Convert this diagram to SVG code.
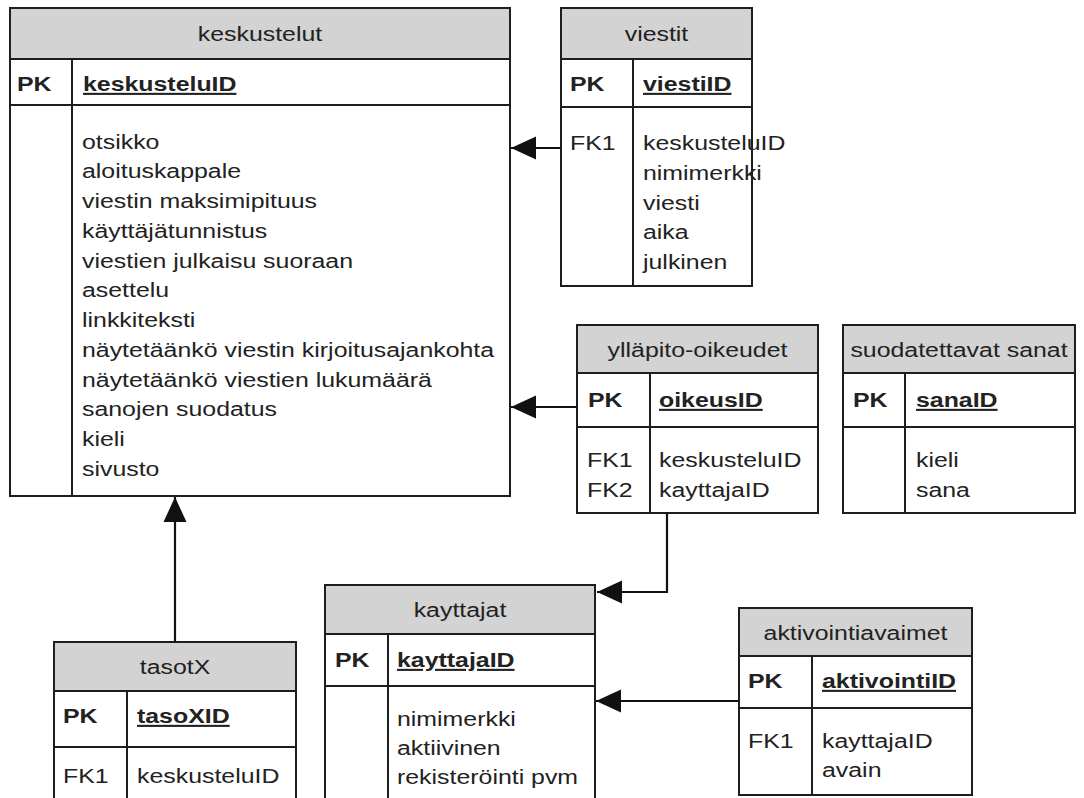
<svg xmlns="http://www.w3.org/2000/svg" width="1084" height="798" viewBox="0 0 1084 798">
  <style>
    .box { fill: #ffffff; stroke: #1e1e1e; stroke-width: 2; }
    .head { fill: #d3d3d3; stroke: #1e1e1e; stroke-width: 2; }
    .sep { stroke: #1e1e1e; stroke-width: 2; fill: none; }
    .t { font-family: "Liberation Sans", Arial, sans-serif; font-size: 21px; fill: #222222; }
    .c { text-anchor: middle; }
    .b { font-weight: bold; }
    .u { font-weight: bold; text-decoration: underline; }
    .link { stroke: #111111; stroke-width: 2.2; fill: none; marker-end: url(#arrow); }
  </style>
  <defs>
    <marker id="arrow" markerUnits="userSpaceOnUse" markerWidth="27" markerHeight="25" refX="25" refY="12" orient="auto">
      <path d="M0,0.5 L25,12 L0,23.5 Z" fill="#111111"/>
    </marker>
  </defs>
  <rect width="1084" height="798" fill="#ffffff"/>

  <!-- keskustelut -->
  <g id="keskustelut">
    <rect class="box" x="10" y="8" width="500" height="488"/>
    <rect class="head" x="10" y="8" width="500" height="51"/>
    <line class="sep" x1="10" y1="105" x2="510" y2="105"/>
    <line class="sep" x1="72" y1="59" x2="72" y2="496"/>
    <text class="t c" transform="translate(260 41) scale(1.185 1)">keskustelut</text>
    <text class="t b" transform="translate(17 91) scale(1.185 1)">PK</text>
    <text class="t u" transform="translate(83 91) scale(1.185 1)">keskusteluID</text>
    <text class="t" transform="translate(82 148.5) scale(1.185 1)">otsikko</text>
    <text class="t" transform="translate(82 178.25) scale(1.185 1)">aloituskappale</text>
    <text class="t" transform="translate(82 208) scale(1.185 1)">viestin maksimipituus</text>
    <text class="t" transform="translate(82 237.75) scale(1.185 1)">käyttäjätunnistus</text>
    <text class="t" transform="translate(82 267.5) scale(1.185 1)">viestien julkaisu suoraan</text>
    <text class="t" transform="translate(82 297.25) scale(1.185 1)">asettelu</text>
    <text class="t" transform="translate(82 327) scale(1.185 1)">linkkiteksti</text>
    <text class="t" transform="translate(82 356.75) scale(1.185 1)">näytetäänkö viestin kirjoitusajankohta</text>
    <text class="t" transform="translate(82 386.5) scale(1.185 1)">näytetäänkö viestien lukumäärä</text>
    <text class="t" transform="translate(82 416.25) scale(1.185 1)">sanojen suodatus</text>
    <text class="t" transform="translate(82 446) scale(1.185 1)">kieli</text>
    <text class="t" transform="translate(82 475.75) scale(1.185 1)">sivusto</text>
  </g>

  <!-- viestit -->
  <g id="viestit">
    <rect class="box" x="561" y="8" width="191" height="278"/>
    <rect class="head" x="561" y="8" width="191" height="51"/>
    <line class="sep" x1="561" y1="107" x2="752" y2="107"/>
    <line class="sep" x1="633" y1="59" x2="633" y2="286"/>
    <text class="t c" transform="translate(656.5 41) scale(1.185 1)">viestit</text>
    <text class="t b" transform="translate(570 91) scale(1.185 1)">PK</text>
    <text class="t u" transform="translate(643 91) scale(1.185 1)">viestiID</text>
    <text class="t" transform="translate(570 150) scale(1.185 1)">FK1</text>
    <text class="t" transform="translate(643 150) scale(1.185 1)">keskusteluID</text>
    <text class="t" transform="translate(643 179.75) scale(1.185 1)">nimimerkki</text>
    <text class="t" transform="translate(643 209.5) scale(1.185 1)">viesti</text>
    <text class="t" transform="translate(643 239.25) scale(1.185 1)">aika</text>
    <text class="t" transform="translate(643 269) scale(1.185 1)">julkinen</text>
  </g>

  <!-- ylläpito-oikeudet -->
  <g id="yllapito-oikeudet">
    <rect class="box" x="577" y="325" width="241" height="188"/>
    <rect class="head" x="577" y="325" width="241" height="48"/>
    <line class="sep" x1="577" y1="427" x2="818" y2="427"/>
    <line class="sep" x1="650" y1="373" x2="650" y2="513"/>
    <text class="t c" transform="translate(697.5 356.5) scale(1.185 1)">ylläpito-oikeudet</text>
    <text class="t b" transform="translate(588 407) scale(1.185 1)">PK</text>
    <text class="t u" transform="translate(659 407) scale(1.185 1)">oikeusID</text>
    <text class="t" transform="translate(587 467) scale(1.185 1)">FK1</text>
    <text class="t" transform="translate(587 497) scale(1.185 1)">FK2</text>
    <text class="t" transform="translate(659 467) scale(1.185 1)">keskusteluID</text>
    <text class="t" transform="translate(659 497) scale(1.185 1)">kayttajaID</text>
  </g>

  <!-- suodatettavat sanat -->
  <g id="suodatettavat-sanat">
    <rect class="box" x="843" y="325" width="232" height="188"/>
    <rect class="head" x="843" y="325" width="232" height="48"/>
    <line class="sep" x1="843" y1="427" x2="1075" y2="427"/>
    <line class="sep" x1="905" y1="373" x2="905" y2="513"/>
    <text class="t c" transform="translate(959 356.5) scale(1.185 1)">suodatettavat sanat</text>
    <text class="t b" transform="translate(853 407) scale(1.185 1)">PK</text>
    <text class="t u" transform="translate(916 407) scale(1.185 1)">sanaID</text>
    <text class="t" transform="translate(916 467) scale(1.185 1)">kieli</text>
    <text class="t" transform="translate(916 497) scale(1.185 1)">sana</text>
  </g>

  <!-- kayttajat -->
  <g id="kayttajat">
    <rect class="box" x="325" y="585" width="270" height="230"/>
    <rect class="head" x="325" y="585" width="270" height="49"/>
    <line class="sep" x1="325" y1="686" x2="595" y2="686"/>
    <line class="sep" x1="388" y1="634" x2="388" y2="815"/>
    <text class="t c" transform="translate(460 617) scale(1.185 1)">kayttajat</text>
    <text class="t b" transform="translate(335 667) scale(1.185 1)">PK</text>
    <text class="t u" transform="translate(397 667) scale(1.185 1)">kayttajaID</text>
    <text class="t" transform="translate(397 726) scale(1.185 1)">nimimerkki</text>
    <text class="t" transform="translate(397 755) scale(1.185 1)">aktiivinen</text>
    <text class="t" transform="translate(397 784) scale(1.185 1)">rekisteröinti pvm</text>
  </g>

  <!-- aktivointiavaimet -->
  <g id="aktivointiavaimet">
    <rect class="box" x="739" y="608" width="233" height="187"/>
    <rect class="head" x="739" y="608" width="233" height="48"/>
    <line class="sep" x1="739" y1="708" x2="972" y2="708"/>
    <line class="sep" x1="812" y1="656" x2="812" y2="795"/>
    <text class="t c" transform="translate(855.5 640) scale(1.185 1)">aktivointiavaimet</text>
    <text class="t b" transform="translate(748 688) scale(1.185 1)">PK</text>
    <text class="t u" transform="translate(822 688) scale(1.185 1)">aktivointiID</text>
    <text class="t" transform="translate(748 748) scale(1.185 1)">FK1</text>
    <text class="t" transform="translate(822 748) scale(1.185 1)">kayttajaID</text>
    <text class="t" transform="translate(822 777) scale(1.185 1)">avain</text>
  </g>

  <!-- tasotX -->
  <g id="tasotX">
    <rect class="box" x="54" y="642" width="242" height="180"/>
    <rect class="head" x="54" y="642" width="242" height="49"/>
    <line class="sep" x1="54" y1="747" x2="296" y2="747"/>
    <line class="sep" x1="127" y1="691" x2="127" y2="822"/>
    <text class="t c" transform="translate(175 674) scale(1.185 1)">tasotX</text>
    <text class="t b" transform="translate(63 723) scale(1.185 1)">PK</text>
    <text class="t u" transform="translate(137 723) scale(1.185 1)">tasoXID</text>
    <text class="t" transform="translate(63 783) scale(1.185 1)">FK1</text>
    <text class="t" transform="translate(137 783) scale(1.185 1)">keskusteluID</text>
  </g>

  <!-- foreign key references -->
  <g id="connectors">
    <path class="link" d="M561,148 L511,148"/>
    <path class="link" d="M577,407 L511,407"/>
    <path class="link" d="M175,642 L175,497"/>
    <path class="link" d="M667,513 L667,592 L597,592"/>
    <path class="link" d="M739,701 L596,701"/>
  </g>
</svg>
